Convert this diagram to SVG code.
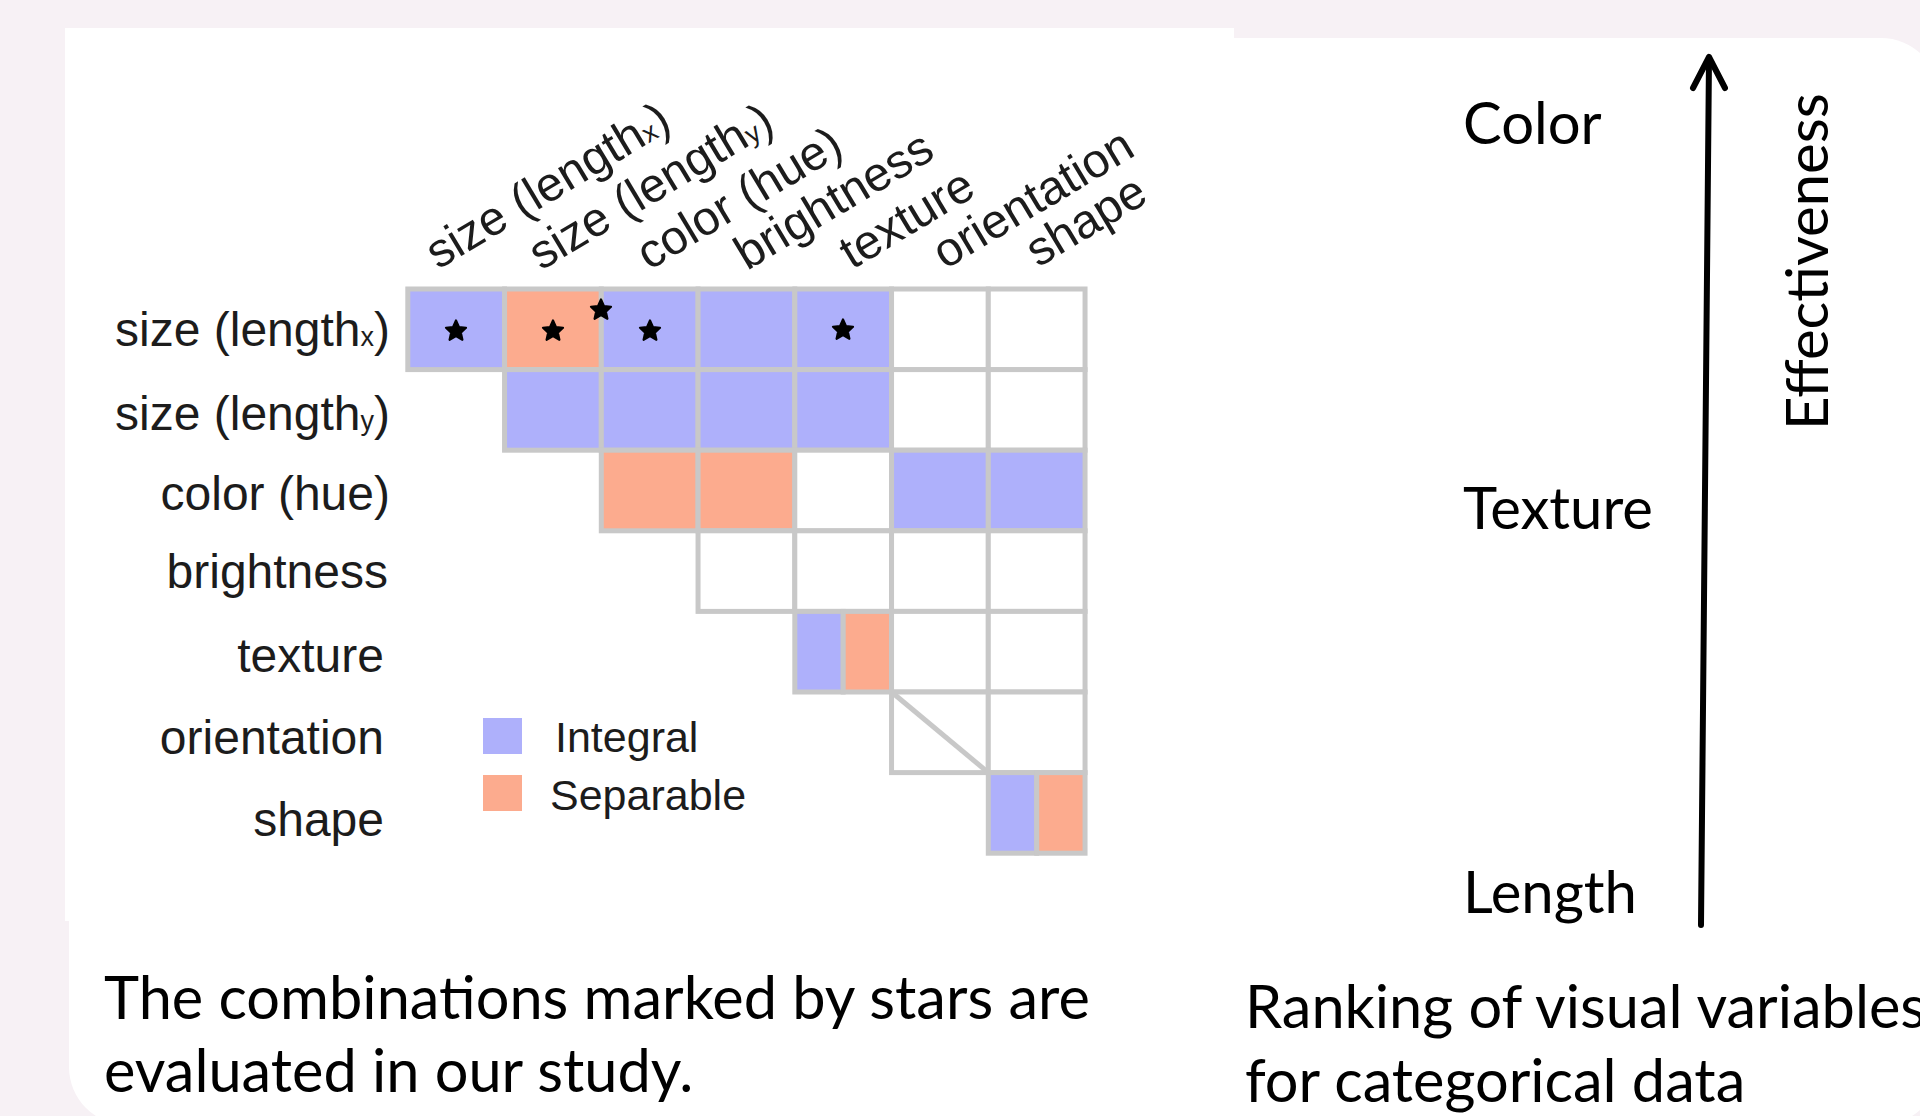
<svg xmlns="http://www.w3.org/2000/svg" width="1920" height="1116" viewBox="0 0 1920 1116">
  <style>
    .hv { font-family: "Liberation Sans", Arial, sans-serif; fill: #1c1c1c; }
    .row { font-size: 48px; text-anchor: end; }
    .col { font-size: 48px; }
    .leg { font-size: 43px; }
    .cb { font-family: Lato, "Open Sans", sans-serif; fill: #000; }
    .cap { font-size: 59.5px; }
    .rank { font-size: 58px; }
    .sub { font-size: 27px; }
    .grid rect { stroke: #c8c8c8; stroke-width: 5; }
    .int { fill: #aeb0fb; }
    .sep { fill: #fcab8e; }
    .emp { fill: #ffffff; }
    .gl { stroke: #c8c8c8; stroke-width: 5; fill: none; }
    .arrow { stroke: #000; stroke-width: 6; fill: none; stroke-linecap: round; stroke-linejoin: round; }
  </style>
  <defs>
    <path id="star" d="M0,-10.5 L3,-3.8 L10,-3.2 L4.8,1.6 L6.4,8.8 L0,5.1 L-6.4,8.8 L-4.8,1.6 L-10,-3.2 L-3,-3.8 Z" fill="#000" stroke="#000" stroke-width="2.2" stroke-linejoin="round"/>
  </defs>

  <!-- slide background -->
  <rect x="0" y="0" width="1920" height="1116" fill="#f7f1f5"/>
  <rect x="69" y="38" width="1870" height="1087" rx="58" ry="58" fill="#ffffff"/>
  <rect x="65" y="28" width="1169" height="893" fill="#ffffff"/>

  <!-- column headers -->
  <g id="col-headers" class="hv col">
    <text transform="translate(438,270) rotate(-31)">size (length<tspan class="sub">x</tspan>)</text>
    <text transform="translate(541,271) rotate(-31)">size (length<tspan class="sub">y</tspan>)</text>
    <text transform="translate(649,271) rotate(-31)">color (hue)</text>
    <text transform="translate(747,271) rotate(-31)">brightness</text>
    <text transform="translate(852,270) rotate(-31)">texture</text>
    <text transform="translate(945,270) rotate(-31)">orientation</text>
    <text transform="translate(1038,268) rotate(-31)">shape</text>
  </g>

  <!-- row headers -->
  <g id="row-headers" class="hv row">
    <text x="390" y="346">size (length<tspan class="sub">x</tspan>)</text>
    <text x="390" y="430">size (length<tspan class="sub">y</tspan>)</text>
    <text x="390" y="510">color (hue)</text>
    <text x="388" y="588">brightness</text>
    <text x="384" y="672">texture</text>
    <text x="384" y="754">orientation</text>
    <text x="384" y="836">shape</text>
  </g>

  <!-- combination matrix: columns step 96.75, rows step 80.6 -->
  <g id="matrix" class="grid">
    <!-- row 0 -->
    <rect class="int" x="407.8" y="289" width="96.75" height="80.6"/>
    <rect class="sep" x="504.55" y="289" width="96.75" height="80.6"/>
    <rect class="int" x="601.3" y="289" width="96.75" height="80.6"/>
    <rect class="int" x="698.05" y="289" width="96.75" height="80.6"/>
    <rect class="int" x="794.8" y="289" width="96.75" height="80.6"/>
    <rect class="emp" x="891.55" y="289" width="96.75" height="80.6"/>
    <rect class="emp" x="988.3" y="289" width="96.75" height="80.6"/>
    <!-- row 1 -->
    <rect class="int" x="504.55" y="369.6" width="96.75" height="80.6"/>
    <rect class="int" x="601.3" y="369.6" width="96.75" height="80.6"/>
    <rect class="int" x="698.05" y="369.6" width="96.75" height="80.6"/>
    <rect class="int" x="794.8" y="369.6" width="96.75" height="80.6"/>
    <rect class="emp" x="891.55" y="369.6" width="96.75" height="80.6"/>
    <rect class="emp" x="988.3" y="369.6" width="96.75" height="80.6"/>
    <!-- row 2 -->
    <rect class="sep" x="601.3" y="450.2" width="96.75" height="80.6"/>
    <rect class="sep" x="698.05" y="450.2" width="96.75" height="80.6"/>
    <rect class="emp" x="794.8" y="450.2" width="96.75" height="80.6"/>
    <rect class="int" x="891.55" y="450.2" width="96.75" height="80.6"/>
    <rect class="int" x="988.3" y="450.2" width="96.75" height="80.6"/>
    <!-- row 3 -->
    <rect class="emp" x="698.05" y="530.8" width="96.75" height="80.6"/>
    <rect class="emp" x="794.8" y="530.8" width="96.75" height="80.6"/>
    <rect class="emp" x="891.55" y="530.8" width="96.75" height="80.6"/>
    <rect class="emp" x="988.3" y="530.8" width="96.75" height="80.6"/>
    <!-- row 4 -->
    <rect class="int" x="794.8" y="611.4" width="48.4" height="80.6"/>
    <rect class="sep" x="843.2" y="611.4" width="48.35" height="80.6"/>
    <rect class="emp" x="891.55" y="611.4" width="96.75" height="80.6"/>
    <rect class="emp" x="988.3" y="611.4" width="96.75" height="80.6"/>
    <!-- row 5 -->
    <rect class="emp" x="891.55" y="692" width="96.75" height="80.6"/>
    <rect class="emp" x="988.3" y="692" width="96.75" height="80.6"/>
    <!-- row 6 -->
    <rect class="int" x="988.3" y="772.6" width="48.4" height="80.6"/>
    <rect class="sep" x="1036.7" y="772.6" width="48.35" height="80.6"/>
  </g>
  <line class="gl" x1="891.55" y1="692" x2="988.3" y2="772.6"/>

  <!-- evaluated combinations -->
  <g id="stars">
    <use href="#star" x="456" y="331"/>
    <use href="#star" x="553" y="331"/>
    <use href="#star" x="601" y="310"/>
    <use href="#star" x="650" y="331"/>
    <use href="#star" x="843" y="330"/>
  </g>

  <!-- legend -->
  <g id="legend">
    <rect class="int" x="483" y="718" width="39" height="36"/>
    <rect class="sep" x="483" y="775" width="39" height="36"/>
    <text class="hv leg" x="555" y="752">Integral</text>
    <text class="hv leg" x="550" y="810">Separable</text>
  </g>

  <!-- caption under the matrix -->
  <g id="caption-left" class="cb cap">
    <text x="104" y="1019">The combinations marked by stars are</text>
    <text x="104" y="1092">evaluated in our study.</text>
  </g>

  <!-- ranking scale -->
  <g id="ranking" class="cb rank">
    <text x="1463" y="144">Color</text>
    <text x="1463" y="529">Texture</text>
    <text x="1463" y="913">Length</text>
    <text transform="translate(1828,430) rotate(-90)">Effectiveness</text>
  </g>
  <g id="connectors">
    <line class="arrow" x1="1701" y1="925" x2="1709" y2="58"/>
    <polyline class="arrow" points="1693,88 1709,57 1725,88"/>
  </g>

  <g id="caption-right" class="cb cap">
    <text x="1245" y="1028">Ranking of visual variables</text>
    <text x="1245" y="1102">for categorical data</text>
  </g>
</svg>
